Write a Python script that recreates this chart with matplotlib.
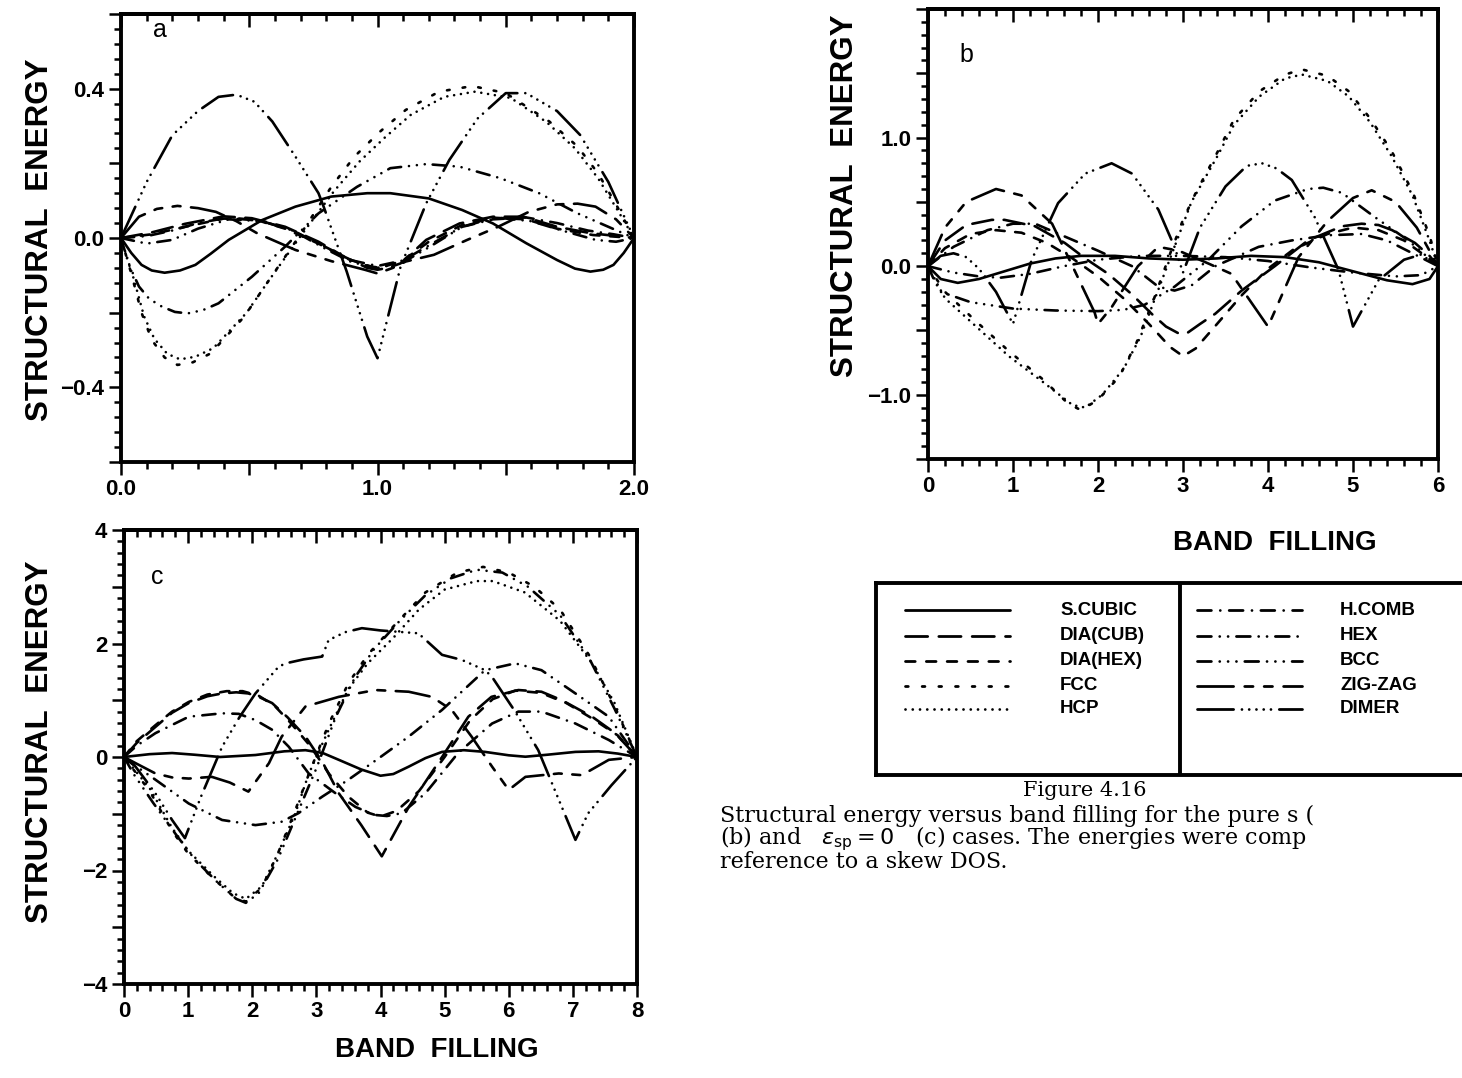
import matplotlib
matplotlib.use('Agg')
import matplotlib.pyplot as plt
from matplotlib.ticker import MultipleLocator, FixedLocator, FixedFormatter
import numpy as np

# ---- data: (band filling, structural energy) ----
# panel a : pure s
a_scubic = [(0, 0), (0.04, -0.04), (0.08, -0.072), (0.12, -0.087), (0.17, -0.093), (0.23, -0.087),
            (0.29, -0.072), (0.35, -0.042), (0.42, -0.005), (0.55, 0.048), (0.68, 0.084), (0.82, 0.111),
            (0.96, 0.12), (1.05, 0.12), (1.2, 0.106), (1.33, 0.075), (1.45, 0.039), (1.58, -0.014),
            (1.7, -0.059), (1.77, -0.082), (1.83, -0.09), (1.88, -0.085), (1.92, -0.072), (1.96, -0.04),
            (2, 0)]
a_diacub = [(0, 0), (0.12, 0.015), (0.25, 0.038), (0.4, 0.058), (0.51, 0.053), (0.64, 0.03), (0.77, -0.01),
            (0.87, -0.05), (0.96, -0.08), (1.0, -0.085), (1.04, -0.08), (1.09, -0.068), (1.19, -0.005),
            (1.32, 0.039), (1.45, 0.057), (1.57, 0.057), (1.7, 0.03), (1.83, 0.013), (2, 0)]
a_diahex = [(0, 0), (0.12, 0.01), (0.25, 0.03), (0.4, 0.052), (0.52, 0.05), (0.64, 0.025), (0.77, -0.015),
            (0.88, -0.055), (0.98, -0.078), (1.02, -0.078), (1.1, -0.06), (1.2, -0.01), (1.33, 0.035),
            (1.46, 0.054), (1.58, 0.05), (1.7, 0.025), (1.84, 0.008), (2, 0)]
a_fcc = [(0, 0), (0.04, -0.095), (0.08, -0.2), (0.12, -0.273), (0.17, -0.32), (0.22, -0.34), (0.28, -0.333),
         (0.35, -0.309), (0.48, -0.211), (0.56, -0.13), (0.7, 0.01), (0.82, 0.137), (0.91, 0.218),
         (1.01, 0.285), (1.11, 0.343), (1.24, 0.392), (1.37, 0.407), (1.5, 0.388), (1.67, 0.312),
         (1.78, 0.245), (1.86, 0.173), (1.93, 0.09), (2, 0)]
a_hcp = [(0, 0), (0.05, -0.11), (0.09, -0.21), (0.13, -0.27), (0.18, -0.31), (0.23, -0.325), (0.29, -0.318),
         (0.36, -0.295), (0.49, -0.2), (0.57, -0.12), (0.7, 0.005), (0.83, 0.125), (0.93, 0.205),
         (1.03, 0.27), (1.13, 0.33), (1.26, 0.378), (1.38, 0.392), (1.52, 0.375), (1.66, 0.31),
         (1.77, 0.24), (1.86, 0.16), (1.94, 0.07), (2, 0)]
a_hcomb = [(0, 0), (0.1, 0.005), (0.2, 0.02), (0.3, 0.04), (0.42, 0.055), (0.55, 0.045), (0.67, 0.02),
           (0.8, -0.025), (0.9, -0.06), (1.0, -0.075), (1.1, -0.06), (1.2, -0.02), (1.33, 0.03),
           (1.45, 0.05), (1.58, 0.055), (1.7, 0.04), (1.82, 0.02), (1.92, 0.01), (2, 0)]
a_hex = [(0, 0), (0.1, -0.015), (0.2, -0.005), (0.3, 0.025), (0.42, 0.05), (0.55, 0.045), (0.67, 0.02),
         (0.8, -0.03), (0.9, -0.065), (1.0, -0.08), (1.1, -0.065), (1.2, -0.025), (1.33, 0.03),
         (1.46, 0.055), (1.6, 0.045), (1.72, 0.02), (1.85, -0.005), (1.93, -0.01), (2, 0)]
a_bcc = [(0, 0), (0.03, -0.07), (0.07, -0.13), (0.11, -0.163), (0.16, -0.184), (0.21, -0.198),
         (0.26, -0.202), (0.32, -0.193), (0.38, -0.175), (0.51, -0.104), (0.64, -0.023), (0.77, 0.066),
         (0.92, 0.137), (1.05, 0.187), (1.19, 0.198), (1.32, 0.191), (1.48, 0.16), (1.63, 0.12),
         (1.78, 0.066), (1.87, 0.039), (2, 0)]
a_zigzag = [(0, 0), (0.07, 0.057), (0.14, 0.078), (0.22, 0.086), (0.3, 0.08), (0.37, 0.07), (0.45, 0.045),
            (0.53, 0.013), (0.68, -0.032), (0.82, -0.062), (0.95, -0.085), (1.0, -0.095), (1.06, -0.08),
            (1.11, -0.063), (1.22, -0.045), (1.35, -0.005), (1.47, 0.03), (1.59, 0.07), (1.7, 0.09),
            (1.78, 0.092), (1.85, 0.084), (1.93, 0.05), (2, 0)]
a_dimer = [(0, 0), (0.1, 0.15), (0.2, 0.275), (0.3, 0.34), (0.38, 0.378), (0.45, 0.384), (0.52, 0.365),
           (0.59, 0.312), (0.68, 0.218), (0.77, 0.12), (0.79, 0.084), (0.88, -0.09), (0.96, -0.264),
           (1.0, -0.322), (1.09, -0.077), (1.19, 0.093), (1.28, 0.209), (1.39, 0.32), (1.5, 0.388),
           (1.58, 0.388), (1.7, 0.34), (1.79, 0.276), (1.9, 0.15), (2, 0)]

# panel b
b_scubic = [(0, 0), (0.15, -0.1), (0.35, -0.13), (0.6, -0.1), (0.9, -0.04), (1.2, 0.02), (1.5, 0.06),
            (1.8, 0.08), (2.2, 0.08), (2.6, 0.06), (3.0, 0.05), (3.4, 0.06), (3.8, 0.08), (4.2, 0.07),
            (4.6, 0.03), (5.0, -0.04), (5.4, -0.11), (5.7, -0.14), (5.9, -0.1), (6, 0)]
b_diacub = [(0, 0), (0.2, 0.2), (0.45, 0.32), (0.75, 0.36), (0.9, 0.36), (1.26, 0.31), (1.61, 0.18),
            (1.85, 0.06), (2.12, -0.06), (2.4, -0.22), (2.63, -0.37), (2.8, -0.47), (2.94, -0.52),
            (3.05, -0.52), (3.2, -0.45), (3.38, -0.37), (3.69, -0.19), (4.08, 0.0), (4.47, 0.2),
            (4.87, 0.31), (5.1, 0.33), (5.3, 0.32), (5.46, 0.28), (5.73, 0.18), (5.9, 0.08), (6, 0)]
b_diahex = [(0, 0), (0.2, 0.14), (0.5, 0.25), (0.8, 0.28), (1.1, 0.26), (1.4, 0.18), (1.7, 0.06),
            (2.0, -0.08), (2.3, -0.25), (2.6, -0.45), (2.85, -0.63), (3.0, -0.7), (3.15, -0.64),
            (3.4, -0.45), (3.7, -0.22), (4.0, -0.02), (4.3, 0.13), (4.7, 0.25), (5.0, 0.3), (5.3, 0.28),
            (5.6, 0.2), (5.85, 0.08), (6, 0)]
b_fcc = [(0, 0), (0.2, -0.2), (0.55, -0.42), (0.95, -0.66), (1.35, -0.88), (1.65, -1.07), (1.8, -1.12),
         (2.0, -1.04), (2.25, -0.86), (2.45, -0.6), (2.65, -0.27), (2.85, 0.1), (3.0, 0.36), (3.15, 0.57),
         (3.4, 0.88), (3.6, 1.14), (3.9, 1.36), (4.2, 1.49), (4.4, 1.53), (4.7, 1.48), (4.95, 1.36),
         (5.2, 1.15), (5.45, 0.9), (5.7, 0.58), (5.9, 0.24), (6, 0)]
b_hcp = [(0, 0), (0.2, -0.25), (0.55, -0.46), (0.95, -0.7), (1.35, -0.9), (1.7, -1.08), (1.85, -1.1),
         (2.05, -1.0), (2.3, -0.8), (2.5, -0.55), (2.7, -0.2), (2.9, 0.15), (3.1, 0.5), (3.4, 0.85),
         (3.6, 1.1), (3.9, 1.32), (4.2, 1.46), (4.4, 1.49), (4.7, 1.44), (4.95, 1.32), (5.2, 1.12),
         (5.45, 0.86), (5.7, 0.55), (5.9, 0.2), (6, 0)]
b_hcomb = [(0, 0), (0.3, 0.15), (0.7, 0.28), (1.0, 0.33), (1.26, 0.33), (1.61, 0.23), (2.0, 0.12),
           (2.4, 0.0), (2.71, -0.16), (2.9, -0.19), (3.1, -0.15), (3.38, 0.0), (3.89, 0.15), (4.28, 0.2),
           (4.7, 0.24), (5.1, 0.25), (5.4, 0.2), (5.7, 0.1), (6, 0)]
b_hex = [(0, 0), (0.3, -0.05), (0.6, -0.08), (0.85, -0.09), (1.2, -0.06), (1.6, 0.0), (2.0, 0.05),
         (2.5, 0.08), (3.0, 0.08), (3.5, 0.07), (4.0, 0.04), (4.5, -0.01), (5.0, -0.05), (5.5, -0.08),
         (5.8, -0.07), (6, 0)]
b_bcc = [(0, 0), (0.08, -0.12), (0.15, -0.2), (0.5, -0.28), (1.0, -0.33), (1.5, -0.345), (2.0, -0.35),
         (2.3, -0.34), (2.55, -0.3), (2.9, -0.16), (3.3, 0.05), (3.69, 0.31), (4.08, 0.51), (4.47, 0.6),
         (4.65, 0.61), (4.87, 0.57), (5.26, 0.38), (5.65, 0.2), (6, 0)]
b_zigzag = [(0, 0), (0.2, 0.3), (0.45, 0.5), (0.8, 0.6), (1.1, 0.55), (1.46, 0.33), (1.7, 0.0),
            (1.96, -0.36), (2.0, -0.45), (2.16, -0.32), (2.47, 0.0), (2.71, 0.15), (2.95, 0.12),
            (3.3, 0.02), (3.57, -0.06), (4.0, -0.47), (4.36, 0.07), (4.7, 0.35), (5.0, 0.53), (5.22, 0.59),
            (5.5, 0.5), (5.75, 0.3), (6, 0)]
b_dimer = [(0, 0), (0.15, 0.08), (0.3, 0.1), (0.45, 0.07), (0.6, -0.02), (0.8, -0.2), (1.0, -0.45),
           (1.22, 0.05), (1.53, 0.49), (1.85, 0.72), (2.16, 0.8), (2.4, 0.72), (2.71, 0.44), (2.9, 0.15),
           (3.0, -0.05), (3.2, 0.3), (3.5, 0.62), (3.75, 0.78), (3.93, 0.8), (4.1, 0.76), (4.28, 0.67),
           (4.55, 0.38), (4.83, -0.03), (5.0, -0.47), (5.3, -0.11), (5.6, 0.05), (5.8, 0.09), (6, 0)]

# panel c
c_scubic = [(0, 0), (0.4, 0.05), (0.75, 0.07), (1.1, 0.04), (1.5, 0.0), (2.05, 0.035), (2.5, 0.1),
            (2.83, 0.12), (3.1, 0.07), (3.35, -0.05), (3.7, -0.22), (4.0, -0.33), (4.2, -0.3),
            (4.44, -0.17), (4.7, -0.02), (4.96, 0.09), (5.3, 0.12), (5.63, 0.09), (6.0, 0.03),
            (6.26, 0.005), (6.6, 0.04), (7.04, 0.09), (7.4, 0.1), (7.7, 0.06), (8, 0)]
c_diacub = [(0, 0), (0.2, 0.25), (0.49, 0.53), (0.75, 0.78), (1.01, 0.95), (1.3, 1.07), (1.53, 1.12),
            (1.75, 1.14), (1.94, 1.12), (2.12, 1.05), (2.31, 0.95), (2.55, 0.7), (2.83, 0.36),
            (3.1, -0.1), (3.35, -0.64), (3.7, -1.2), (4.02, -1.75), (4.44, -0.88), (4.96, 0.0),
            (5.37, 0.71), (5.73, 1.06), (6.15, 1.18), (6.51, 1.15), (6.83, 1.0), (7.3, 0.71),
            (7.66, 0.42), (8, 0)]
c_diahex = [(0, 0), (0.2, 0.28), (0.49, 0.56), (0.75, 0.8), (1.01, 0.97), (1.3, 1.1), (1.6, 1.16),
            (1.85, 1.16), (2.1, 1.08), (2.35, 0.9), (2.6, 0.6), (2.9, 0.2), (3.2, -0.3), (3.5, -0.7),
            (3.8, -0.98), (4.0, -1.05), (4.25, -0.95), (4.6, -0.6), (5.0, 0.0), (5.4, 0.65),
            (5.75, 1.02), (6.1, 1.17), (6.5, 1.13), (6.9, 0.95), (7.3, 0.68), (7.7, 0.38), (8, 0)]
c_fcc = [(0, 0), (0.4, -0.6), (0.75, -1.3), (1.0, -1.7), (1.4, -2.15), (1.7, -2.45), (1.9, -2.55),
         (2.15, -2.3), (2.4, -1.7), (2.65, -1.0), (2.9, -0.25), (3.2, 0.6), (3.5, 1.3), (3.8, 1.8),
         (4.2, 2.3), (4.7, 2.9), (5.2, 3.25), (5.6, 3.35), (6.0, 3.25), (6.4, 3.0), (6.8, 2.6),
         (7.25, 1.8), (7.65, 0.9), (8, 0)]
c_hcp = [(0, 0), (0.4, -0.55), (0.75, -1.25), (1.0, -1.65), (1.4, -2.1), (1.7, -2.4), (1.9, -2.5),
         (2.15, -2.28), (2.4, -1.7), (2.67, -1.0), (2.88, -0.3), (3.2, 0.5), (3.5, 1.2), (3.8, 1.65),
         (4.2, 2.1), (4.6, 2.6), (5.0, 2.95), (5.5, 3.1), (5.75, 3.1), (6.25, 2.9), (6.8, 2.4),
         (7.3, 1.65), (7.65, 0.95), (8, 0)]
c_hcomb = [(0, 0), (0.2, 0.2), (0.49, 0.42), (1.01, 0.71), (1.53, 0.77), (1.79, 0.76), (2.05, 0.65),
           (2.31, 0.48), (2.57, 0.18), (2.88, -0.29), (3.3, -0.64), (3.61, -0.88), (3.9, -1.02),
           (4.1, -1.04), (4.33, -0.99), (4.7, -0.64), (5.21, 0.07), (5.74, 0.59), (6.15, 0.8),
           (6.51, 0.8), (7.04, 0.59), (7.56, 0.3), (8, 0)]
c_hex = [(0, 0), (0.12, -0.11), (0.49, -0.4), (1.01, -0.82), (1.53, -1.11), (2.05, -1.2), (2.46, -1.14),
         (2.72, -0.99), (3.09, -0.7), (3.5, -0.4), (4.0, 0.0), (4.44, 0.36), (4.96, 0.83), (5.63, 1.53),
         (6.1, 1.65), (6.51, 1.53), (7.04, 1.12), (7.56, 0.71), (8, 0)]
c_bcc = [(0, 0), (0.15, -0.3), (0.45, -0.8), (0.8, -1.35), (1.1, -1.8), (1.45, -2.2), (1.75, -2.5),
         (1.9, -2.57), (2.1, -2.4), (2.4, -1.8), (2.7, -1.0), (3.0, -0.2), (3.3, 0.7), (3.6, 1.4),
         (3.9, 1.9), (4.3, 2.4), (4.7, 2.85), (5.1, 3.15), (5.5, 3.3), (5.9, 3.25), (6.3, 3.0),
         (6.8, 2.5), (7.25, 1.75), (7.65, 0.85), (8, 0)]
c_zigzag = [(0, 0), (0.2, -0.12), (0.49, -0.29), (0.75, -0.36), (1.01, -0.38), (1.37, -0.35),
            (1.65, -0.45), (1.94, -0.61), (2.26, -0.11), (2.46, 0.36), (2.83, 0.89), (3.35, 1.06),
            (3.92, 1.18), (4.44, 1.15), (4.8, 1.06), (5.11, 0.83), (5.42, 0.36), (5.74, -0.17),
            (6.0, -0.58), (6.26, -0.35), (6.78, -0.29), (7.14, -0.32), (7.56, -0.05), (8, 0)]
c_dimer = [(0, 0), (0.18, -0.17), (0.49, -0.64), (0.75, -1.11), (0.95, -1.43), (1.2, -0.7), (1.53, 0.18),
           (1.8, 0.7), (2.05, 1.12), (2.41, 1.59), (2.52, 1.65), (2.8, 1.72), (3.09, 1.77), (3.19, 2.06),
           (3.45, 2.2), (3.71, 2.27), (4.0, 2.23), (4.23, 2.21), (4.59, 2.18), (4.96, 1.8), (5.27, 1.71),
           (5.63, 1.53), (5.74, 1.41), (6.1, 0.8), (6.46, 0.12), (7.04, -1.46), (7.24, -0.99),
           (7.6, -0.5), (8, 0)]

names = ['S.CUBIC', 'DIA(CUB)', 'DIA(HEX)', 'FCC', 'HCP', 'H.COMB', 'HEX', 'BCC', 'ZIG-ZAG', 'DIMER']
panel_a = [a_scubic, a_diacub, a_diahex, a_fcc, a_hcp, a_hcomb, a_hex, a_bcc, a_zigzag, a_dimer]
panel_b = [b_scubic, b_diacub, b_diahex, b_fcc, b_hcp, b_hcomb, b_hex, b_bcc, b_zigzag, b_dimer]
panel_c = [c_scubic, c_diacub, c_diahex, c_fcc, c_hcp, c_hcomb, c_hex, c_bcc, c_zigzag, c_dimer]

# line styles (in units of line width, round caps)
styles = {
    'S.CUBIC': '-',
    'DIA(CUB)': (0, (8, 4)),
    'DIA(HEX)': (0, (3.5, 4)),
    'FCC': (0, (1.0, 5)),
    'HCP': (0, (0.01, 2.6)),
    'H.COMB': (0, (5, 3.2, 0.01, 3.2)),
    'HEX': (0, (5, 3, 0.01, 3, 0.01, 3)),
    'BCC': (0, (5, 3, 0.01, 3, 0.01, 3, 0.01, 3)),
    'ZIG-ZAG': (0, (13, 4, 3, 4, 3, 4)),
    'DIMER': (0, (13, 3, 0.01, 2.6, 0.01, 2.6, 0.01, 2.6, 0.01, 2.6, 0.01, 3)),
}

plt.rcParams['font.family'] = ['Liberation Sans', 'DejaVu Sans']
plt.rcParams['lines.dash_capstyle'] = 'round'
plt.rcParams['lines.solid_capstyle'] = 'round'

W, H = 1462, 1078
fig = plt.figure(figsize=(W / 100, H / 100), dpi=100)


def box(l, r, t, b):
    return [l / W, 1 - b / H, (r - l) / W, (b - t) / H]


def panel(rect, data, xlim, ylim, xmaj, xmin, xlabels, ymaj, ymin, ylabels):
    ax = fig.add_axes(rect)
    for name, pts in zip(names, data):
        p = np.array(pts)
        ax.plot(p[:, 0], p[:, 1], color='black', lw=1.9, linestyle=styles[name])
    ax.set_xlim(*xlim)
    ax.set_ylim(*ylim)
    ax.xaxis.set_major_locator(FixedLocator(xmaj))
    ax.xaxis.set_major_formatter(FixedFormatter(xlabels))
    ax.xaxis.set_minor_locator(MultipleLocator(xmin))
    ax.yaxis.set_major_locator(FixedLocator(ymaj))
    ax.yaxis.set_major_formatter(FixedFormatter(ylabels))
    ax.yaxis.set_minor_locator(MultipleLocator(ymin))
    ax.tick_params(which='both', direction='out', top=False, right=False, width=1.8,
                   labelsize=16)
    ax.tick_params(which='major', length=9, pad=3)
    ax.tick_params(which='minor', length=5)
    for lab in ax.get_xticklabels() + ax.get_yticklabels():
        lab.set_fontweight('bold')
    for s in ax.spines.values():
        s.set_linewidth(2.8)
    top = ax.secondary_xaxis('top')
    top.xaxis.set_major_locator(FixedLocator(xmaj))
    top.xaxis.set_minor_locator(MultipleLocator(xmin))
    top.tick_params(which='both', direction='in', labeltop=False, width=1.8)
    top.tick_params(which='major', length=9)
    top.tick_params(which='minor', length=5)
    top.spines['top'].set_linewidth(2.8)
    return ax


m = '\u2212'
ax_a = panel(box(121, 634, 14, 462), panel_a, (0, 2), (-0.6, 0.6),
             [0, 0.5, 1, 1.5, 2], 0.1, ['0.0', '', '1.0', '', '2.0'],
             [-0.6, -0.4, -0.2, 0, 0.2, 0.4, 0.6], 0.04, ['', m + '0.4', '', '0.0', '', '0.4', ''])
ax_b = panel(box(928, 1438, 9, 459), panel_b, (0, 6), (-1.5, 2.0),
             list(range(7)), 0.2, [str(i) for i in range(7)],
             [-1.5, -1.0, -0.5, 0, 0.5, 1.0, 1.5, 2.0], 0.1,
             ['', m + '1.0', '', '0.0', '', '1.0', '', ''])
ax_c = panel(box(124, 637, 530, 984), panel_c, (0, 8), (-4, 4),
             list(range(9)), 0.2, [str(i) for i in range(9)],
             list(range(-4, 5)), 0.2,
             [m + '4', '', m + '2', '', '0', '', '2', '', '4'])

# panel letters
for lx, ly, letter in [(160, 30, 'a'), (966, 55, 'b'), (157, 577, 'c')]:
    fig.text(lx / W, 1 - ly / H, letter, fontsize=18, ha='center', va='center')

# axis titles
lab_kw = dict(fontsize=22.5, fontweight='bold', rotation=90, ha='center', va='center')
fig.text(40 / W, 1 - 240 / H, 'STRUCTURAL  ENERGY', **lab_kw)
fig.text(845 / W, 1 - 196 / H, 'STRUCTURAL  ENERGY', **lab_kw)
fig.text(40 / W, 1 - 742 / H, 'STRUCTURAL  ENERGY', **lab_kw)
fig.text(1275 / W, 1 - 543 / H, 'BAND  FILLING', fontsize=20, fontweight='bold', ha='center', va='center')
fig.text(437 / W, 1 - 1050 / H, 'BAND  FILLING', fontsize=20, fontweight='bold', ha='center', va='center')

# legend box
lax = fig.add_axes(box(876, 1480, 583, 775))
lax.set_xlim(0, 1)
lax.set_ylim(0, 1)
lax.set_xticks([])
lax.set_yticks([])
for s in lax.spines.values():
    s.set_linewidth(2.8)
lax.axvline((1180 - 876) / (1480 - 876), color='black', lw=2.8)
rows = [0.859, 0.724, 0.594, 0.464, 0.344]
for i, name in enumerate(names):
    col = i // 5
    y = rows[i % 5]
    x0 = [(905 - 876) / 604, (1197 - 876) / 604][col]
    lax.plot([x0, x0 + 105 / 604], [y, y], color='black', lw=2.0, linestyle=styles[name])
    lax.text([(1060 - 876) / 604, (1340 - 876) / 604][col], y, name, fontsize=13.5,
             fontweight='bold', va='center', ha='left')

# caption
fig.text(1085 / W, 1 - 791 / H, 'Figure 4.16', family='DejaVu Serif', fontsize=15,
         ha='center', va='center')
caption = ('Structural energy versus band filling for the pure s (\n'
           r'(b) and   $\epsilon_{\rm sp} = 0$   (c) cases. The energies were comp' '\n'
           'reference to a skew DOS.')
fig.text(720 / W, 1 - 805 / H, caption, family='DejaVu Serif', fontsize=16,
         ha='left', va='top', linespacing=0.88)

fig.savefig('out.png', dpi=100)
